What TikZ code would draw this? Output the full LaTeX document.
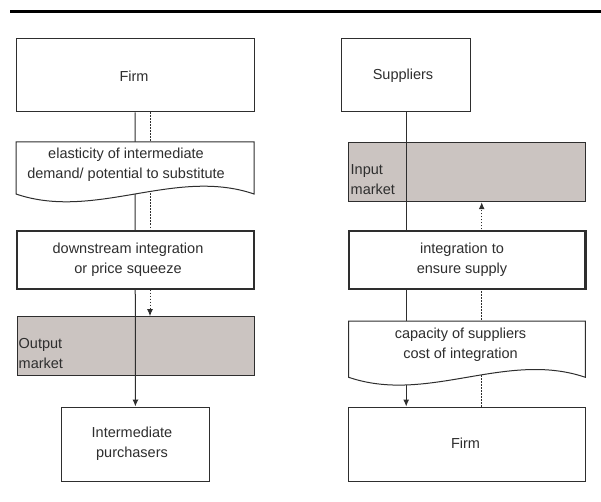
\documentclass[tikz,border=0pt]{standalone}
\usepackage{fontspec}
\setmainfont{Liberation Sans}
\usetikzlibrary{arrows.meta}
\pgfdeclarelayer{bg}
\pgfsetlayers{bg,main}
\definecolor{ln}{HTML}{2E2E2E}
\definecolor{mk}{HTML}{CBC4C1}
\tikzset{
  box/.style={draw=ln, line width=1pt, fill=white, inner sep=0pt, minimum width=#1},
  box/.default=237pt,
  thickbox/.style={box=#1, line width=2.4pt},
  thickbox/.default=237pt,
  doc/.style={draw=ln, line width=1pt, fill=white},
  market/.style={draw=ln, line width=1pt, fill=mk, inner sep=0pt, minimum width=237pt, minimum height=59pt},
  lbl/.style={text=ln, align=center, inner sep=0pt, font=\fontsize{14.5}{20}\selectfont},
  mlbl/.style={lbl, align=left, anchor=west},
  flow/.style={draw=ln, line width=1pt, -{Latex[length=7pt,width=6pt]}},
  dflow/.style={flow, dash pattern=on 1.5pt off 1.5pt},
}
\begin{document}
\begin{tikzpicture}[x=1pt,y=-1pt]
\useasboundingbox (0,0) rectangle (601,502);
% top rule
\draw[line width=2.8pt, black] (10,11.5) -- (601,11.5);

% ---- left column ----
\node[box=238pt, minimum height=73pt] (firmL) at (135,75.5) {};
\node[lbl] (firmLt) at (134,76) {Firm};

\draw[doc] (16,142) -- (254,142) -- (254,194)
  .. controls (175,167) and (95,221) .. (16,194) -- cycle;
\coordinate (elasL) at (135,142);
\node[lbl] (elast) at (126,165) {elasticity of intermediate\\demand/ potential to substitute};

\node[thickbox, minimum height=58pt] (down) at (135.5,260) {};
\node[lbl] (downt) at (128,260) {downstream integration\\or price squeeze};

\node[box=148.7pt, minimum height=74pt] (interm) at (135.4,444) {};
\node[lbl] (intermt) at (132,444) {Intermediate\\purchasers};

% ---- right column ----
\node[box=129pt, minimum height=73pt] (supp) at (406.2,75.5) {};
\node[lbl] (suppt) at (403,76) {Suppliers};

\node[thickbox=236.6pt, minimum height=58pt] (integ) at (467,260) {};
\node[lbl] (integt) at (462,260) {integration to\\ensure supply};

\draw[doc] (348.7,321) -- (585.3,321) -- (585.3,377.3)
  .. controls (506.4,350.3) and (427.6,404.3) .. (348.7,377.3) -- cycle;
\node[lbl] (capt) at (460.5,345) {capacity of suppliers\\cost of integration};

\node[box=236.6pt, minimum height=74pt] (firmR) at (467,444) {};
\node[lbl] (firmRt) at (465.5,443.5) {Firm};

\begin{pgfonlayer}{bg}
  \node[market] (outmk) at (135.5,346.2) {};
  \node[market, minimum width=236.6pt] (inmk) at (467,172.2) {};
  \coordinate (dL) at (150,0);
  \coordinate (dR) at (481.7,0);
  \draw[flow] (firmL.south) -- (interm.north);
  \draw[dflow] (firmL.south -| dL) -- (outmk.north -| dL);
  \draw[flow] (supp.south) -- (supp.south |- firmR.north);
  \draw[dflow] (firmR.north -| dR) -- (inmk.south -| dR);
\end{pgfonlayer}
\node[mlbl] (outt) at (18.5,354) {Output\\market};
\node[mlbl] (int) at (350.5,180) {Input\\market};
\end{tikzpicture}
\end{document}
